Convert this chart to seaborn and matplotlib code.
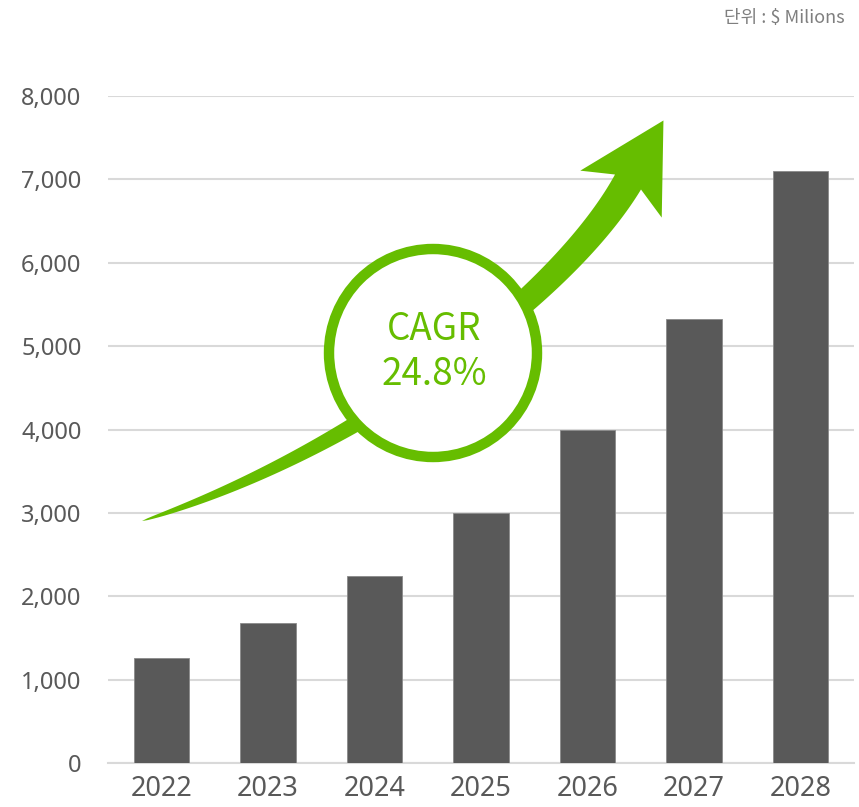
import matplotlib.pyplot as plt
import numpy as np
import pandas as pd
import seaborn as sns
from matplotlib.patches import Polygon, Circle
from matplotlib.transforms import Affine2D

years = ['2022', '2023', '2024', '2025', '2026', '2027', '2028']
market = [1260, 1680, 2240, 3000, 4000, 5330, 7100]
cagr_text = 'CAGR\n24.8%'
unit_text = '단위 : $ Milions'

df = pd.DataFrame({'year': years, 'market': market})

sns.set_style('white')
plt.rcParams['font.family'] = ['Noto Sans CJK KR', 'DejaVu Sans']

W, H = 859, 807
fig = plt.figure(figsize=(W / 100, H / 100), dpi=100)
ax = fig.add_axes([108 / W, (H - 763) / H, 746 / W, 667 / H])

sns.barplot(data=df, x='year', y='market', color='#595959', saturation=1,
            width=0.52, edgecolor='#8a8a8a', linewidth=0.6, ax=ax, zorder=3)

ax.set_ylim(0, 8000)
ax.set_yticks(range(0, 8001, 1000))
ax.set_yticklabels([f'{v:,}' for v in range(0, 8001, 1000)])
ax.yaxis.grid(True, color='#d9d9d9', linewidth=1.5, zorder=0)
ax.set_axisbelow(True)
for s in ['top', 'right', 'left']:
    ax.spines[s].set_visible(False)
ax.spines['bottom'].set_color('#d9d9d9')
ax.spines['bottom'].set_linewidth(1.5)
ax.tick_params(axis='both', length=0)
ax.tick_params(axis='y', pad=19, labelcolor='#595959')
ax.tick_params(axis='x', pad=9, labelcolor='#595959')
for lab in ax.get_yticklabels():
    lab.set_family(['Noto Sans', 'DejaVu Sans'])
    lab.set_fontsize(17)
for lab in ax.get_xticklabels():
    lab.set_family(['Noto Sans', 'DejaVu Sans'])
    lab.set_fontsize(19.5)
    lab.set_fontweight('medium')
ax.set_xlabel('')
ax.set_ylabel('')

# pixel coordinates (y down) for the decoration
px = Affine2D().scale(1 / 100, -1 / 100).translate(0, H / 100) + fig.dpi_scale_trans
green = '#66bd00'

# curved tapered arrow
P0 = np.array([142, 521]); P1 = np.array([350, 455])
P2 = np.array([560, 300]); P3 = np.array([628, 182])
t = np.linspace(0, 1, 120)[:, None]
pts = (1 - t) ** 3 * P0 + 3 * (1 - t) ** 2 * t * P1 + 3 * (1 - t) * t ** 2 * P2 + t ** 3 * P3
der = 3 * (1 - t) ** 2 * (P1 - P0) + 6 * (1 - t) * t * (P2 - P1) + 3 * t ** 2 * (P3 - P2)
tang = der / np.linalg.norm(der, axis=1, keepdims=True)
norm = np.column_stack([tang[:, 1], -tang[:, 0]])
w = 30 * t[:, 0] ** 0.6 / 2
left = pts + norm * w[:, None]
right = pts - norm * w[:, None]
d = tang[-1]; n = norm[-1]
tip = P3 + 71 * d
barb_l = P3 - 14 * d + 47 * n
barb_r = P3 - 14 * d - 47 * n
shape = np.vstack([left, barb_l, tip, barb_r, right[::-1]])
fig.add_artist(Polygon(shape, closed=True, facecolor=green, edgecolor='none',
                       transform=px, zorder=5))

fig.add_artist(Circle((433, 353), 104, facecolor='white', edgecolor=green,
                      linewidth=7.5, transform=px, zorder=6))
fig.text(434 / W, 1 - 352 / H, cagr_text, ha='center', va='center', color=green,
         fontsize=26.5, linespacing=1.2, zorder=7)

fig.text(845 / W, 1 - 18 / H, unit_text, ha='right', va='center', color='#7f7f7f',
         fontsize=13)

fig.savefig('out.png', dpi=100)
